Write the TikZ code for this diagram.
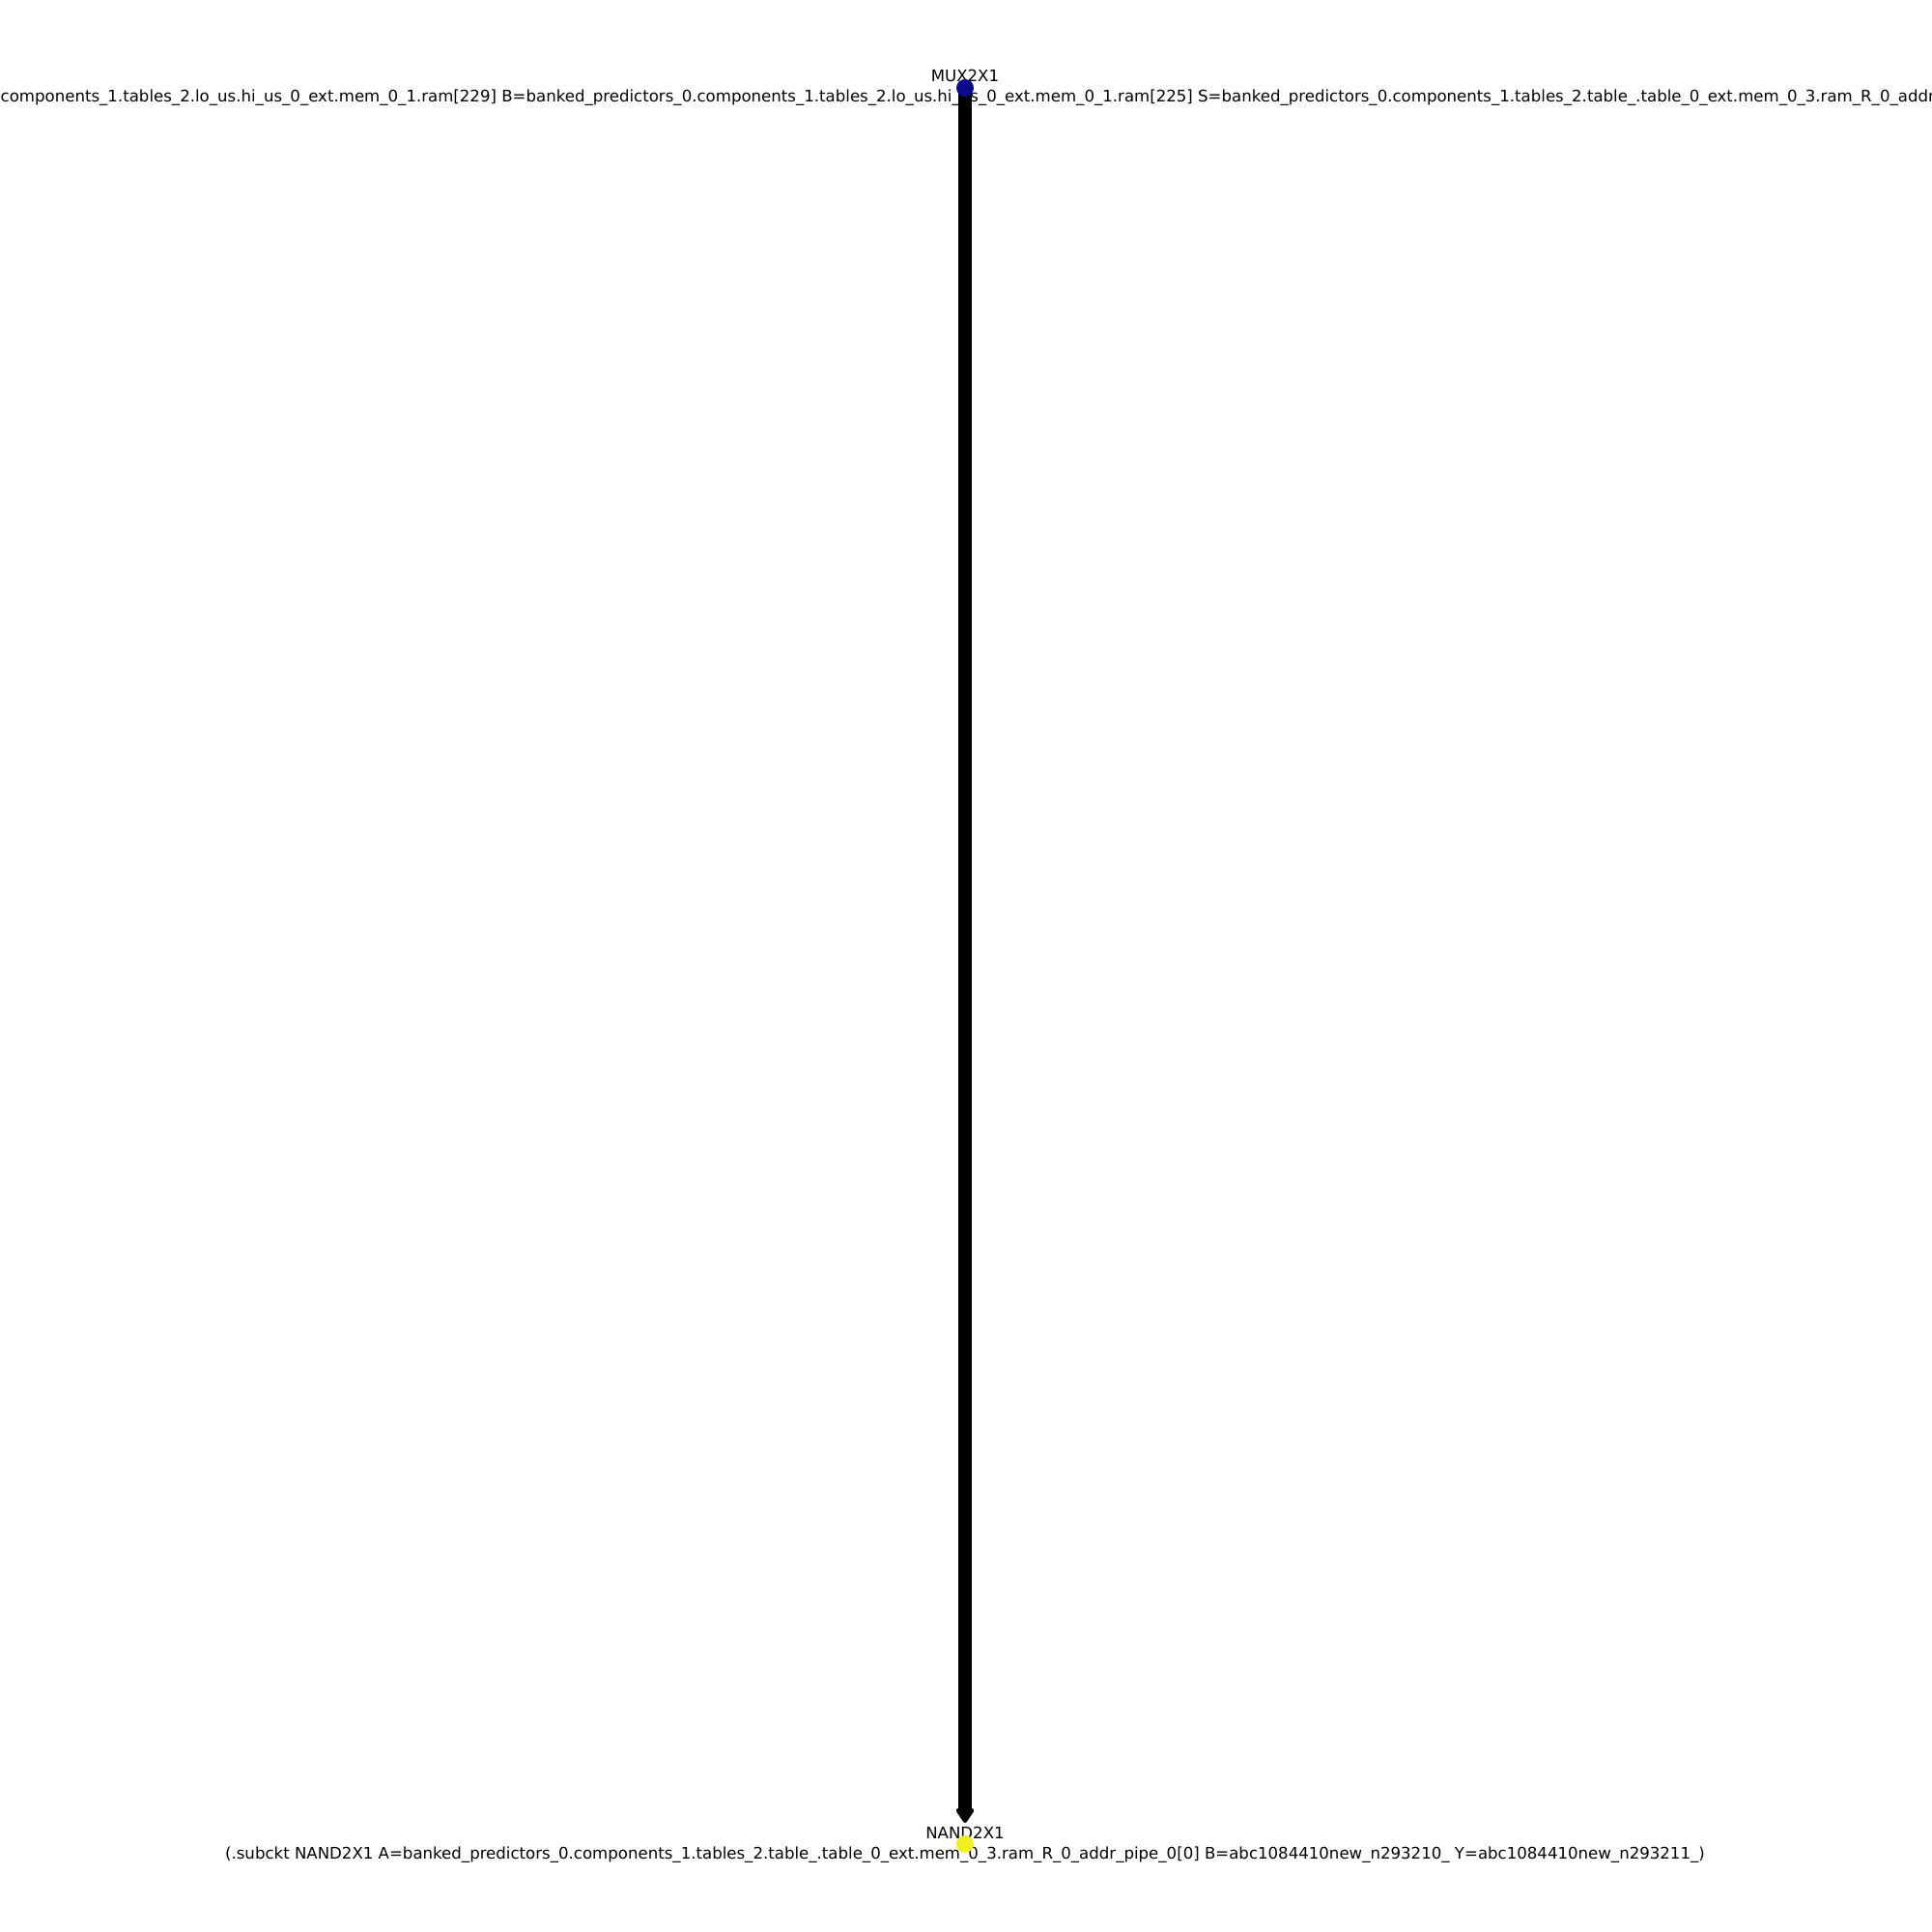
\documentclass[tikz,border=0pt]{standalone}
\usepackage{fontspec}
\setmainfont{DejaVu Sans}
\usetikzlibrary{arrows.meta}
\definecolor{muxblue}{HTML}{0A0A8C}
\definecolor{nandyellow}{HTML}{F0F020}
\tikzset{
  every picture/.style={line join=round, line cap=round, >=Stealth},
  gate/.style={circle, inner sep=0pt, minimum size=0.18cm},
  lbl/.style={inner sep=0pt, font=\fontsize{4.72}{6.0}\selectfont, align=center},
  wire/.style={line width=0.145cm, -{Triangle[length=0.17cm, width=0.21cm, line width=0.11cm, round]}},
}

\begin{document}
\begin{tikzpicture}
\useasboundingbox (0.000,0.000) rectangle (20.000,20.000);
\clip (0.000,0.000) rectangle (20.000,20.000);
% labels
\node[lbl] (muxname) at (9.990,19.215) {MUX2X1};
\node[lbl,anchor=west] (muxpins) at (0.000,18.987) {components\_1.tables\_2.lo\_us.hi\_us\_0\_ext.mem\_0\_1.ram[229] B=banked\_predictors\_0.components\_1.tables\_2.lo\_us.hi\_us\_0\_ext.mem\_0\_1.ram[225] S=banked\_predictors\_0.components\_1.tables\_2.table\_.table\_0\_ext.mem\_0\_3.ram\_R\_0\_addr};
\node[lbl] (nandlbl) at (9.990,0.905) {NAND2X1\\(.subckt NAND2X1 A=banked\_predictors\_0.components\_1.tables\_2.table\_.table\_0\_ext.mem\_0\_3.ram\_R\_0\_addr\_pipe\_0[0] B=abc1084410new\_n293210\_ Y=abc1084410new\_n293211\_)};
% gates
\coordinate (muxc) at (9.990,19.090);
\coordinate (nandc) at (9.990,0.910);
\draw[wire] (muxc) -- ([yshift=0.22cm]nandc);
\node[gate,fill=muxblue] (mux) at (muxc) {};
\node[gate,fill=nandyellow] (nand) at (nandc) {};
\end{tikzpicture}
\end{document}
